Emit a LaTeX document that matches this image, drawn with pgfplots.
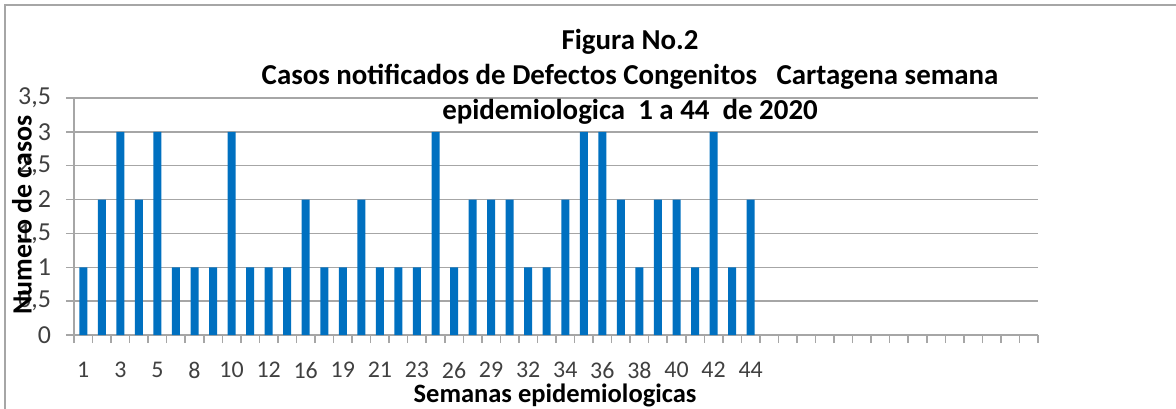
\documentclass[border=0pt]{standalone}
\usepackage{fontspec}
\setmainfont{Carlito}
\usepackage{pgfplots}
\pgfplotsset{compat=1.18}
\definecolor{barblue}{HTML}{0070C0}
\definecolor{gridgray}{HTML}{A6A6A6}
\definecolor{tickgray}{HTML}{404040}
\begin{document}
\begin{tikzpicture}
\path[use as bounding box] (0,0) rectangle (588bp,204.5bp);
\draw[gridgray, line width=0.75bp] (2.5bp,0) -- (2.5bp,202bp) -- (588bp,202bp);
\begin{axis}[
  at={(37bp,37bp)}, anchor=south west,
  scale only axis, width=482bp, height=118.5bp,
  xmin=0.5, xmax=52.5, ymin=0, ymax=3.5,
  axis x line*=bottom, axis y line*=left,
  axis line style={gridgray, line width=0.75bp, -},
  ymajorgrids, grid style={gridgray, line width=0.75bp},
  ytick={0,0.5,...,3.5},
  tick align=outside,
  major tick length=4bp,
  tick style={gridgray, line width=0.75bp},
  xtick={0.5,1.5,...,52.5}, xticklabels={},
  extra x ticks={1,3,...,37},
  extra x tick labels={1,3,5,8,10,12,16,19,21,23,26,29,32,34,36,38,40,42,44},
  extra x tick style={major tick length=0pt, grid=none,
    tick label style={yshift=-10bp}},
  xticklabel style={font=\fontsize{12}{14}\selectfont, text=tickgray},
  yticklabel style={font=\fontsize{13}{15}\selectfont, text=tickgray, xshift=-4bp,
    /pgf/number format/use comma, /pgf/number format/assume math mode=true},
  clip=false,
]
\addplot[ybar, bar width=4bp, fill=barblue, draw=none] coordinates {
(1,1)(2,2)(3,3)(4,2)(5,3)(6,1)(7,1)(8,1)(9,3)(10,1)(11,1)(12,1)(13,2)(14,1)(15,1)(16,2)(17,1)(18,1)(19,1)(20,3)(21,1)(22,2)(23,2)(24,2)(25,1)(26,1)(27,2)(28,3)(29,3)(30,2)(31,1)(32,2)(33,2)(34,1)(35,3)(36,1)(37,2)};
\end{axis}
\node[align=center, font=\bfseries\fontsize{14.5}{17.5}\selectfont] at (315bp,166bp)
  {Figura No.2\\Casos notificados de Defectos Congenitos\ \ \ Cartagena semana\\epidemiologica\ \ 1 a 44\ \ de 2020};
\node[font=\bfseries\fontsize{13.3}{15}\selectfont] at (277.5bp,7bp) {Semanas epidemiologicas};
\node[rotate=90, font=\bfseries\fontsize{14}{16}\selectfont] at (11bp,97bp) {Numero de casos};
\end{tikzpicture}
\end{document}
